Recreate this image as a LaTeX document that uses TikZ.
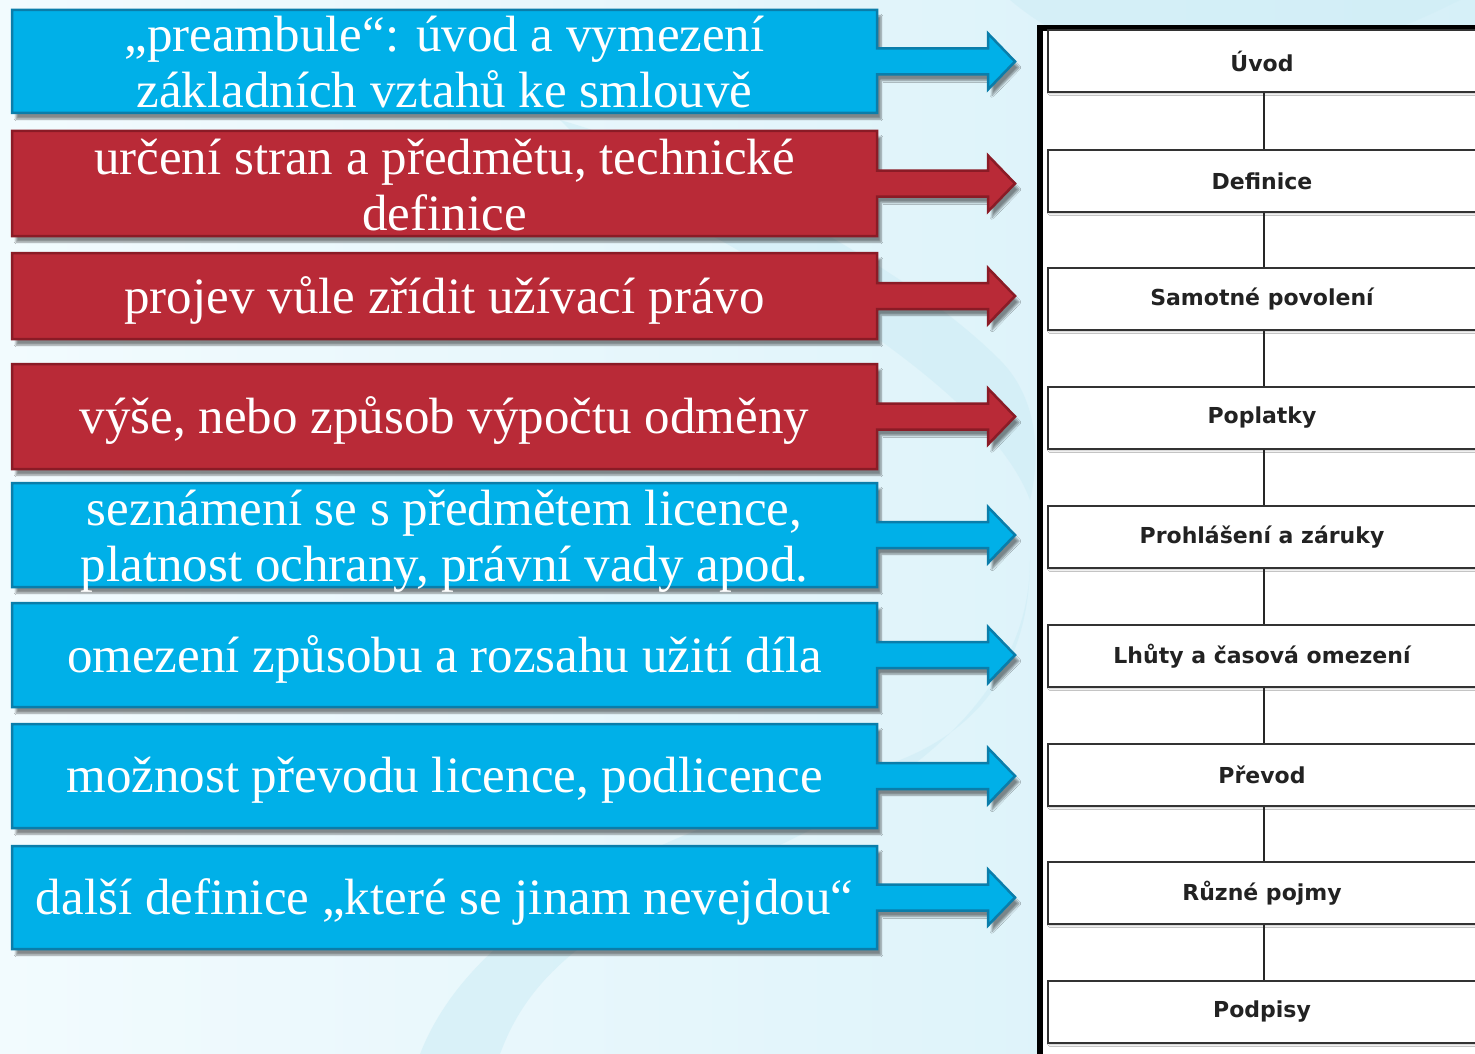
\documentclass[tikz,border=0pt]{standalone}
\usepackage{fontspec}
\setmainfont{Liberation Serif}
\newfontfamily\panelfont{DejaVu Sans}
\usetikzlibrary{shadows.blur,calc}
\definecolor{bgA}{HTML}{F2FBFE}
\definecolor{bgB}{HTML}{D6F0F8}
\definecolor{wm}{HTML}{CFEDF6}
\definecolor{cyanfill}{HTML}{00B0E8}
\definecolor{cyanedge}{HTML}{0A7DAA}
\definecolor{redfill}{HTML}{B92A37}
\definecolor{rededge}{HTML}{8A1B26}
\definecolor{paneltext}{HTML}{222222}
\tikzset{
  lbox/.style={minimum width=865pt, inner sep=0pt, text=white, align=center,
    font=\fontsize{51}{56}\selectfont},
  bluearrow/.style={fill=cyanfill, draw=cyanedge, line width=2.5pt, line join=miter,
    blur shadow={shadow xshift=4pt, shadow yshift=-6pt, shadow blur steps=6, shadow opacity=45}},
  redarrow/.style={fill=redfill, draw=rededge, line width=2.5pt, line join=miter,
    blur shadow={shadow xshift=4pt, shadow yshift=-6pt, shadow blur steps=6, shadow opacity=45}},
  pbox/.style={draw=black!80, line width=2.5pt, fill=white, minimum width=428pt,
    minimum height=62pt, inner sep=0pt, text=paneltext,
    font=\panelfont\bfseries\fontsize{22}{24}\selectfont,
    blur shadow={shadow xshift=1.5pt, shadow yshift=-1.5pt, shadow blur steps=3, shadow opacity=30}},
  plink/.style={draw=black!85, line width=2.5pt}
}
% #1 style, #2 centre y, #3 half height ; box spans x 12..877
\newcommand{\arrowshape}[3]{%
  \path[#1] (12,#2-#3) -- (877,#2-#3) -- (877,#2-13) -- (988,#2-13) -- (988,#2-28)
    -- (1015,#2) -- (988,#2+28) -- (988,#2+13) -- (877,#2+13) -- (877,#2+#3)
    -- (12,#2+#3) -- cycle;}
\begin{document}
\begin{tikzpicture}[x=1pt,y=-1pt]
\useasboundingbox (0,0) rectangle (1475,1054);
\shade[left color=bgA, right color=bgB] (0,0) rectangle (1475,1054);
\fill[wm, opacity=0.6] (420,1054) .. controls (480,900) and (700,820) .. (900,760)
  .. controls (1000,720) and (1030,640) .. (1030,560)
  .. controls (1030,700) and (900,800) .. (700,880)
  .. controls (560,940) and (520,1000) .. (500,1054) -- cycle;
\fill[wm, opacity=0.6] (560,120) .. controls (700,160) and (900,260) .. (1000,360)
  .. controls (1040,400) and (1040,460) .. (1030,500)
  .. controls (1000,420) and (880,330) .. (720,240)
  .. controls (640,200) and (600,160) .. (560,120) -- cycle;
\fill[wm, opacity=0.6] (1010,0) .. controls (1080,60) and (1200,90) .. (1300,60)
  .. controls (1380,40) and (1440,10) .. (1460,0) -- cycle;

% left boxes with arrows
\arrowshape{bluearrow}{61.5}{51.5}
\arrowshape{redarrow}{183.5}{52.5}
\arrowshape{redarrow}{296}{43}
\arrowshape{redarrow}{416.5}{52.5}
\arrowshape{bluearrow}{535}{52}
\arrowshape{bluearrow}{655}{52}
\arrowshape{bluearrow}{776}{52}
\arrowshape{bluearrow}{897.5}{51.5}
\node[lbox, minimum height=103pt] (l1) at (444.5,62) {„preambule“: úvod a vymezení\\základních vztahů ke smlouvě};
\node[lbox, minimum height=105pt] (l2) at (444.5,185) {určení stran a předmětu, technické\\definice};
\node[lbox, minimum height=86pt]  (l3) at (444.5,300) {projev vůle zřídit užívací právo};
\node[lbox, minimum height=105pt] (l4) at (444.5,420.5) {výše, nebo způsob výpočtu odměny};
\node[lbox, minimum height=104pt] (l5) at (444.5,541) {seznámení se s předmětem licence,\\platnost ochrany, právní vady apod.};
\node[lbox, minimum height=104pt] (l6) at (444.5,659) {omezení způsobu a rozsahu užití díla};
\node[lbox, minimum height=104pt] (l7) at (444.5,780) {možnost převodu licence, podlicence};
\node[lbox, minimum height=103pt] (l8) at (444.5,901.5) {další definice „které se jinam nevejdou“};

% right panel
\draw[line width=6pt, fill=white] (1040,28) rectangle (1500,1080);
\node[pbox] (p1) at (1262,61) {Úvod};
\node[pbox] (p2) at (1262,181) {Definice};
\node[pbox] (p3) at (1262,299) {Samotné povolení};
\node[pbox] (p4) at (1262,418) {Poplatky};
\node[pbox] (p5) at (1262,537) {Prohlášení a záruky};
\node[pbox] (p6) at (1262,656) {Lhůty a časová omezení};
\node[pbox] (p7) at (1262,775) {Převod};
\node[pbox] (p8) at (1262,893) {Různé pojmy};
\node[pbox] (p9) at (1262,1012) {Podpisy};
\foreach \a/\b in {p1/p2,p2/p3,p3/p4,p4/p5,p5/p6,p6/p7,p7/p8,p8/p9}
  \draw[plink] ([xshift=2pt]\a.south) -- ([xshift=2pt]\b.north);
\end{tikzpicture}
\end{document}
